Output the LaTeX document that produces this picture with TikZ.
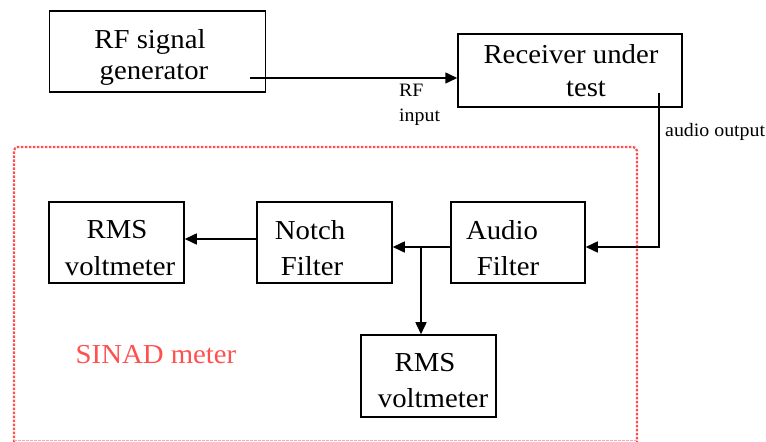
\documentclass[tikz,border=0pt]{standalone}
\usepackage{fontspec}
\setmainfont{Liberation Serif}[FakeStretch=1.05]
\usetikzlibrary{arrows.meta}
\definecolor{sinadred}{HTML}{FF5050}
\tikzset{
  box/.style={draw, line width=1.5bp, rectangle, inner sep=0pt},
  lbl/.style={font=\fontsize{27.5}{35}\selectfont, align=center, inner sep=0pt},
  small/.style={font=\fontsize{19}{28}\selectfont, inner sep=0pt},
  conn/.style={line width=1.5bp},
  arr/.style={conn, -{Triangle[length=12bp,width=11bp]}},
}
\begin{document}
\begin{tikzpicture}[x=1bp,y=-1bp]
\useasboundingbox (0,0) rectangle (766,442);
% dashed SINAD meter region
\draw[sinadred, line width=2.2bp, dash pattern=on 2.5bp off 1.5bp, rounded corners=4bp] (14,442) -- (14,147) -- (637,147) -- (637,442);
\draw[sinadred!50, line width=1bp, dash pattern=on 2.5bp off 1.5bp] (14,440) -- (637,440);
\node[sinadred, font=\fontsize{27.5}{30}\selectfont, inner sep=0pt] (sinad) at (156,355) {SINAD meter};
% boxes
\node[box, minimum width=216bp, minimum height=81bp] (gen) at (157.5,51.5) {};
\node[box, minimum width=224bp, minimum height=73bp] (rx) at (570,70.5) {};
\node[box, minimum width=135bp, minimum height=81bp] (rms1) at (116.5,242.5) {};
\node[box, minimum width=135bp, minimum height=81bp] (notch) at (324.5,242.5) {};
\node[box, minimum width=134bp, minimum height=81bp] (audio) at (518,242.5) {};
\node[box, minimum width=135bp, minimum height=82bp] (rms2) at (428.5,376) {};
% labels
\node[lbl] (tgen1) at (150,42) {RF signal};
\node[lbl] (tgen2) at (154,75) {generator};
\node[lbl] (trx1) at (571,54) {Receiver under};
\node[lbl] (trx2) at (586,89) {test};
\node[lbl] (trms1a) at (117,230) {RMS};
\node[lbl] (trms1b) at (120,266) {voltmeter};
\node[lbl] (tnotcha) at (310,230) {Notch};
\node[lbl] (tnotchb) at (312,266) {Filter};
\node[lbl] (taudioa) at (502,230) {Audio};
\node[lbl] (taudiob) at (508,266) {Filter};
\node[lbl] (trms2a) at (425,363) {RMS};
\node[lbl] (trms2b) at (433,398) {voltmeter};
\node[small, anchor=west] (rfin1) at (399,90) {RF};
\node[small, anchor=west] (rfin2) at (399,117) {input};
\node[small, anchor=west] (aout) at (665,132) {audio output};
% connectors
\coordinate (genout) at (250,78);
\coordinate (rxout) at (659,93);
\coordinate (bend) at (659,247);
\coordinate (split) at (421,247);
\coordinate (nout) at (257,239);
\draw[arr] (genout) -- (genout -| rx.west);
\draw[arr] (rxout) -- (bend) -- (bend -| audio.east);
\draw[arr] (bend -| audio.west) -- (bend -| notch.east);
\draw[arr] (nout) -- (nout -| rms1.east);
\draw[arr] (split) -- (split |- rms2.north);
\end{tikzpicture}
\end{document}
